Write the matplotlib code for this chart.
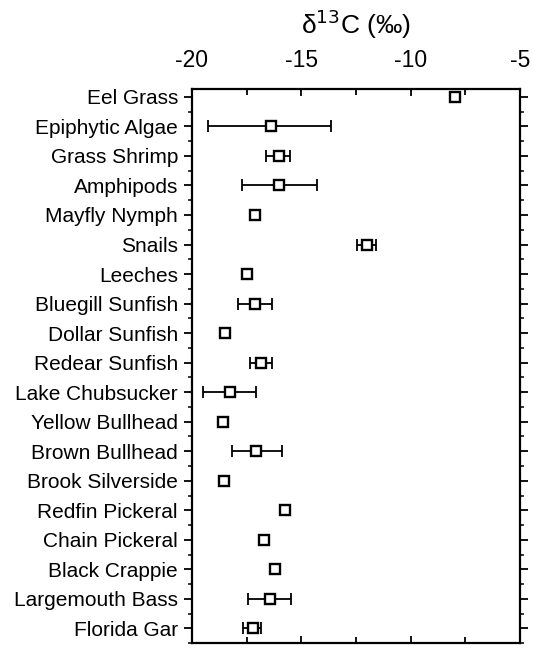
import numpy as np
import matplotlib.pyplot as plt
from matplotlib.ticker import MultipleLocator

plt.rcParams['font.family'] = ['Liberation Sans', 'DejaVu Sans']

# especies / fuentes, de arriba hacia abajo
nombres = ['Eel Grass', 'Epiphytic Algae', 'Grass Shrimp', 'Amphipods',
           'Mayfly Nymph', 'Snails', 'Leeches', 'Bluegill Sunfish',
           'Dollar Sunfish', 'Redear Sunfish', 'Lake Chubsucker',
           'Yellow Bullhead', 'Brown Bullhead', 'Brook Silverside',
           'Redfin Pickeral', 'Chain Pickeral', 'Black Crappie',
           'Largemouth Bass', 'Florida Gar']
# valores medios de d13C
media = [-8.0, -16.4, -16.0, -16.0, -17.1, -12.0, -17.5, -17.1, -18.5,
         -16.85, -18.25, -18.6, -17.05, -18.55, -15.75, -16.7, -16.2,
         -16.45, -17.2]
# limites inferior / superior de la barra de error (nan = sin barra)
inf = [np.nan, -19.25, -16.6, -17.7, np.nan, -12.45, np.nan, -17.9, np.nan,
       -17.35, -19.5, np.nan, -18.15, np.nan, np.nan, np.nan, np.nan,
       -17.45, -17.65]
sup = [np.nan, -13.65, -15.5, -14.3, np.nan, -11.6, np.nan, -16.35, np.nan,
       -16.35, -17.05, np.nan, -15.9, np.nan, np.nan, np.nan, np.nan,
       -15.45, -16.85]

media = np.array(media)
err_izq = np.nan_to_num(media - np.array(inf))
err_der = np.nan_to_num(np.array(sup) - media)
y = np.arange(len(nombres))

fig = plt.figure(figsize=(5.33, 6.49), dpi=100)
ax = fig.add_axes([0.360, 0.009, 0.616, 0.854])

con_barra = ~np.isnan(np.array(inf))
ax.errorbar(media[con_barra], y[con_barra],
            xerr=[err_izq[con_barra], err_der[con_barra]],
            fmt='none', ecolor='k', elinewidth=1.3, capsize=4, capthick=1.3)
ax.plot(media, y, 's', ms=7.5, mfc='white', mec='k', mew=1.7, ls='none', zorder=5)

ax.set_xlim(-20, -5)
ax.set_ylim(len(nombres) - 0.5, -0.27)
ax.set_yticks(y)
ax.set_yticklabels(nombres, fontsize=15)
ax.yaxis.set_minor_locator(MultipleLocator(0.5))
ax.tick_params(axis='y', which='major', direction='out', length=6, width=1.3, pad=4,
               right=True)
ax.tick_params(axis='y', which='minor', direction='out', length=3, width=1.1,
               right=True)

ax.xaxis.tick_top()
ax.xaxis.set_minor_locator(MultipleLocator(2.5))
ax.set_xticks([-20, -15, -10, -5])
ax.set_xticklabels(['-20', '-15', '-10', '-5'])
ax.tick_params(axis='x', which='both', top=True, bottom=True, direction='in',
               labelsize=16.5, pad=12, width=1.3)
ax.tick_params(axis='x', which='major', length=5)
ax.tick_params(axis='x', which='minor', length=4)
ax.set_xlabel('δ$^{13}$C (‰)', fontsize=19, labelpad=11)
ax.xaxis.set_label_position('top')

for s in ax.spines.values():
    s.set_linewidth(1.6)

fig.savefig('out.png', dpi=100)
